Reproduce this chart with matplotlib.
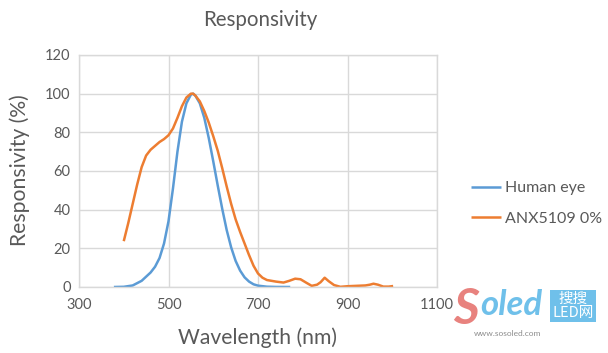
import matplotlib
matplotlib.use("Agg")
import matplotlib.pyplot as plt

plt.rcParams['font.family'] = ['Lato', 'DejaVu Sans']

title = "Responsivity"
xlabel = "Wavelength (nm)"
ylabel = "Responsivity (%)"
xticks = [300, 500, 700, 900, 1100]
yticks = [0, 20, 40, 60, 80, 100, 120]

eye_wl = [378, 400, 420, 440, 460, 470, 480, 490, 500, 510, 520, 530, 540, 550, 555,
          560, 570, 580, 590, 600, 610, 620, 630, 640, 650, 660, 670, 680, 690,
          700, 720, 740, 772]
eye_val = [0, 0.1, 0.8, 3.2, 7.5, 10.5, 15.0, 22.5, 34.0, 51.0, 70.0, 85.5, 95.0, 99.5, 100,
           99.0, 95.0, 87.5, 77.0, 65.0, 52.5, 40.5, 29.5, 20.5, 13.5, 8.5, 5.0, 2.8, 1.4,
           0.7, 0.15, 0.03, 0]

anx_wl = [400, 410, 420, 430, 440, 450, 460, 470, 480, 490, 500, 510, 520, 530, 540,
          550, 555, 560, 570, 580, 590, 600, 610, 620, 630, 640, 650, 660, 670, 680,
          690, 700, 710, 720, 740, 757, 770, 783, 795, 808, 820, 832, 840, 849, 858,
          870, 884, 900, 920, 940, 950, 958, 968, 980, 992, 1002]
anx_val = [23.7, 33, 43, 53, 62, 68, 71, 73, 75, 76.5, 78.5, 82, 87.5, 93.5, 98,
           100, 100, 99, 96, 91, 85, 78, 70.5, 61.5, 52, 43, 35, 28.5, 22.5, 16.5,
           11, 7, 4.8, 3.6, 2.8, 2.3, 3.2, 4.3, 4.0, 2.2, 0.6, 1.2, 2.5, 4.8, 3.0,
           1.0, 0.1, 0.4, 0.6, 0.8, 1.2, 1.7, 1.2, 0.2, 0.2, 0.5]

fig = plt.figure(figsize=(6.08, 3.53), dpi=100)
ax = fig.add_axes([79/608, 1-287/353, (437-79)/608, (287-55)/353])

ax.plot(eye_wl, eye_val, color='#5B9BD5', lw=1.8, label='Human eye', solid_capstyle='butt')
ax.plot(anx_wl, anx_val, color='#ED7D31', lw=1.8, label='ANX5109 0%', solid_capstyle='butt')

ax.set_xlim(300, 1100)
ax.set_ylim(0, 120)
ax.set_xticks(xticks)
ax.set_yticks(yticks)
ax.grid(True, color='#D9D9D9', lw=1)
ax.set_axisbelow(True)
for s in ax.spines.values():
    s.set_color('#D9D9D9')
    s.set_linewidth(1)
ax.tick_params(length=0, colors='#595959', labelsize=10.5, pad=8)
ax.tick_params(axis='y', pad=6)

fig.text(260/608, 1-20/353, title, ha='center', va='center', fontsize=14.8, color='#595959')
fig.text(258/608, 1-338/353, xlabel, ha='center', va='center', fontsize=15.2, color='#595959')
fig.text(20/608, 1-170/353, ylabel, ha='center', va='center', rotation=90, fontsize=15.2, color='#595959')

leg = ax.legend(loc='center left', bbox_to_anchor=(1.055, 0.36), frameon=False,
                fontsize=11.5, handlelength=1.9, handletextpad=0.25, labelspacing=1.0,
                labelcolor='#595959')

# watermark logo
fig.text(466/608, 1-309/353, "S", ha='center', va='center', fontsize=36, color='#E8827E',
         fontweight='bold', style='italic')
fig.text(511/608, 1-305/353, "oled", ha='center', va='center', fontsize=25, color='#6FC0EA',
         fontweight='bold', style='italic')
fig.text(508/608, 1-334/353, "www.sosoled.com", ha='center', va='center', fontsize=6, color='#8C8C8C')
fig.text(573/608, 1-306/353, "搜搜\nLED网", ha='center', va='center', fontsize=10.5, color='white',
         family=['Noto Sans CJK SC', 'DejaVu Sans'], linespacing=1.05,
         bbox=dict(boxstyle='square,pad=0.15', fc='#6FC0EA', ec='none'))

fig.savefig('out.png', dpi=100)
